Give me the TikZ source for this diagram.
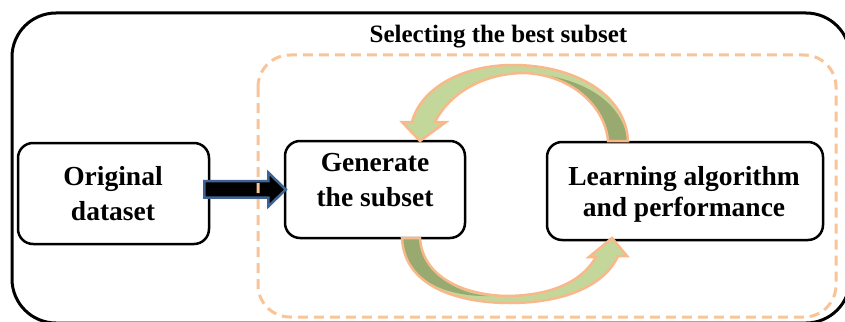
\documentclass[tikz,border=0pt]{standalone}
\usepackage{fontspec}
\setmainfont{Liberation Serif}
\usetikzlibrary{calc}
\definecolor{dashorange}{RGB}{248,196,152}
\definecolor{arrorange}{RGB}{248,184,138}
\definecolor{lightgreen}{RGB}{196,215,155}
\definecolor{darkgreen}{RGB}{152,170,112}
\definecolor{arrblue}{RGB}{62,100,150}
\tikzset{
  boxnode/.style={draw=black, line width=2.5pt, rounded corners=15pt, inner sep=0pt},
  txt/.style={font=\fontsize{27.5}{35}\selectfont\bfseries, align=center, inner sep=0pt},
  curvearrow/.style={draw=arrorange, line width=2.5pt, line join=miter},
}
\begin{document}
\begin{tikzpicture}[x=1pt,y=-1pt]
\useasboundingbox (0,0) rectangle (845,321);
\clip (0,0) rectangle (845,321);
% outer frame
\draw[line width=3pt, rounded corners=44pt] (12,13) rectangle (850,323);
% boxes
\node[boxnode, minimum width=191pt, minimum height=101pt] (orig) at (113.5,193.5) {};
\node[boxnode, minimum width=180pt, minimum height=97pt] (gen) at (375,189.5) {};
\node[boxnode, minimum width=276pt, minimum height=98pt] (learn) at (685,191) {};
\node[txt] (origT) at (113,193.2) {Original\\dataset};
\node[txt] (genT) at (375,180) {Generate\\the subset};
\node[txt, font=\fontsize{27.5}{31}\selectfont\bfseries] (learnT) at (684,194.2) {Learning algorithm\\and performance};
\node[font=\fontsize{25}{30}\selectfont\bfseries, anchor=base, inner sep=0pt] (title) at (498.5,42) {Selecting the best subset};
% block arrow
\draw[line width=2.5pt, draw=arrblue, fill=black, line join=miter]
  ($(orig.east |- gen.west)+(-6,-8.5)$) -- ++(64,0) -- ++(0,-8.5)
  -- ($(gen.west)+(2,0)$)
  -- ($(orig.east |- gen.west)+(58,17)$) -- ++(0,-9)
  -- ($(orig.east |- gen.west)+(-6,8)$) -- cycle;
% dashed region
\draw[dashorange, line width=3pt, dash pattern=on 10pt off 6pt, rounded corners=32pt] (258,55) rectangle (836,317);
% top curved arrow (learn -> gen)
\fill[lightgreen] (628,141) .. controls (626,95) and (575,65) .. (513,65) .. controls (460,65) and (420,90) .. (412,122)
  -- (402,122) -- (420,141) -- (446,122) -- (435,122)
  .. controls (450,92) and (485,73) .. (525,73) .. controls (570,75) and (605,105) .. (608,141) -- cycle;
\fill[darkgreen] (608,141) .. controls (605,105) and (570,75) .. (525,73) .. controls (580,76) and (622,100) .. (628,141) -- cycle;
\draw[curvearrow] (628,141) .. controls (626,95) and (575,65) .. (513,65) .. controls (460,65) and (420,90) .. (412,122)
  -- (402,122) -- (420,141) -- (446,122) -- (435,122)
  .. controls (450,92) and (485,73) .. (525,73) .. controls (570,75) and (605,105) .. (608,141) -- cycle;
% bottom curved arrow (gen -> learn)
\fill[lightgreen] (402,238) .. controls (404,285) and (455,303) .. (510,303) .. controls (565,303) and (605,285) .. (618,256)
  -- (627,256) -- (612,238) -- (589,257) -- (596,257)
  .. controls (580,285) and (545,296) .. (505,296) .. controls (455,294) and (422,272) .. (420,238) -- cycle;
\fill[darkgreen] (420,238) .. controls (422,272) and (455,294) .. (490,296) .. controls (445,297) and (405,280) .. (402,238) -- cycle;
\draw[curvearrow] (402,238) .. controls (404,285) and (455,303) .. (510,303) .. controls (565,303) and (605,285) .. (618,256)
  -- (627,256) -- (612,238) -- (589,257) -- (596,257)
  .. controls (580,285) and (545,296) .. (505,296) .. controls (455,294) and (422,272) .. (420,238) -- cycle;
\end{tikzpicture}
\end{document}
